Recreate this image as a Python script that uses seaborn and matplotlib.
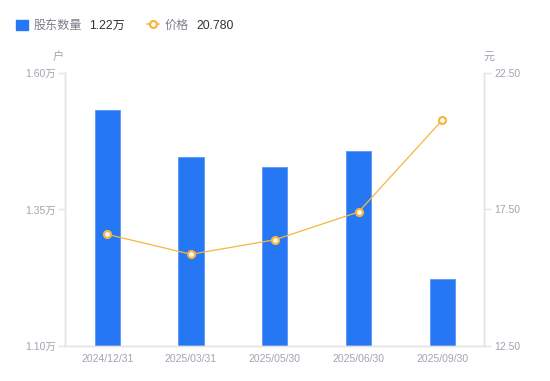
import matplotlib
matplotlib.use("Agg")
import matplotlib.pyplot as plt
from matplotlib.lines import Line2D
from matplotlib.patches import Patch
import pandas as pd
import seaborn as sns

# data
dates = ["2024/12/31", "2025/03/31", "2025/05/30", "2025/06/30", "2025/09/30"]
holders = [1.533, 1.447, 1.427, 1.458, 1.223]   # 万户
price = [16.59, 15.86, 16.39, 17.41, 20.78]      # 元
left_ticks = [1.10, 1.35, 1.60]
right_ticks = [12.50, 17.50, 22.50]

blue = "#2677F4"
orange = "#F8B53E"
tick_col = "#A3A3B3"
spine_col = "#E3E3E8"

sns.set_style("white")
plt.rcParams["font.family"] = ["Liberation Sans", "Noto Sans CJK SC", "DejaVu Sans"]

df = pd.DataFrame({"date": dates, "holders": holders, "price": price})

fig = plt.figure(figsize=(5.5, 3.81), dpi=100)
ax = fig.add_axes([0.1187, 0.0919, 0.7618, 0.7165])

sns.barplot(data=df, x="date", y="holders", color=blue, width=0.3,
            saturation=1, ax=ax, edgecolor="#5B97F7", linewidth=0.6)
ax.set_ylim(1.10, 1.60)
ax.set_yticks(left_ticks)
ax.set_yticklabels([f"{v:.2f}万" for v in left_ticks])
ax.set_xlabel("")
ax.set_ylabel("")

ax2 = ax.twinx()
ax2.plot(range(len(dates)), df["price"], color=orange, lw=0.9,
         marker="o", ms=5, mfc="white", mec=orange, mew=1.6, zorder=5)
ax2.set_ylim(12.5, 22.5)
ax2.set_yticks(right_ticks)
ax2.set_yticklabels([f"{v:.2f}" for v in right_ticks])

for a in (ax, ax2):
    for s in a.spines.values():
        s.set_color(spine_col)
        s.set_linewidth(1)
    a.spines["top"].set_visible(False)
    a.tick_params(axis="y", length=5, width=1, color=spine_col,
                  labelcolor=tick_col, labelsize=7.5, pad=2)
ax.tick_params(axis="x", length=0, labelcolor=tick_col, labelsize=7.5, pad=6)
ax.set_xlim(-0.5, len(dates) - 0.5)

ax.text(-0.017, 1.06, "户", transform=ax.transAxes, ha="center", va="center",
        color=tick_col, fontsize=8)
ax2.text(1.011, 1.06, "元", transform=ax2.transAxes, ha="center", va="center",
         color=tick_col, fontsize=8)

# legend with the latest values
handles = [Patch(facecolor=blue, edgecolor=blue),
           Line2D([0], [0], color=orange, lw=1.2, marker="o", ms=5,
                  mfc="white", mec=orange, mew=1.6)]
leg = fig.legend(handles, ["股东数量", "价格"], loc="center left",
                 bbox_to_anchor=(0.018, 0.932), ncol=2, frameon=False,
                 fontsize=8.7, handlelength=1.0, handleheight=1.0,
                 handletextpad=0.5, columnspacing=5.3, borderpad=0)
for t in leg.get_texts():
    t.set_color("#7D7D8C")

fig.canvas.draw()
inv = fig.transFigure.inverted()
for t, val in zip(leg.get_texts(), [f"{holders[-1]:.2f}万", f"{price[-1]:.3f}"]):
    bb = t.get_window_extent()
    x0, y0 = inv.transform((bb.x1 + 7, (bb.y0 + bb.y1) / 2))
    fig.text(x0, y0, val, ha="left", va="center", fontsize=8.7, color="#333333")

fig.savefig("out.png", dpi=100)
